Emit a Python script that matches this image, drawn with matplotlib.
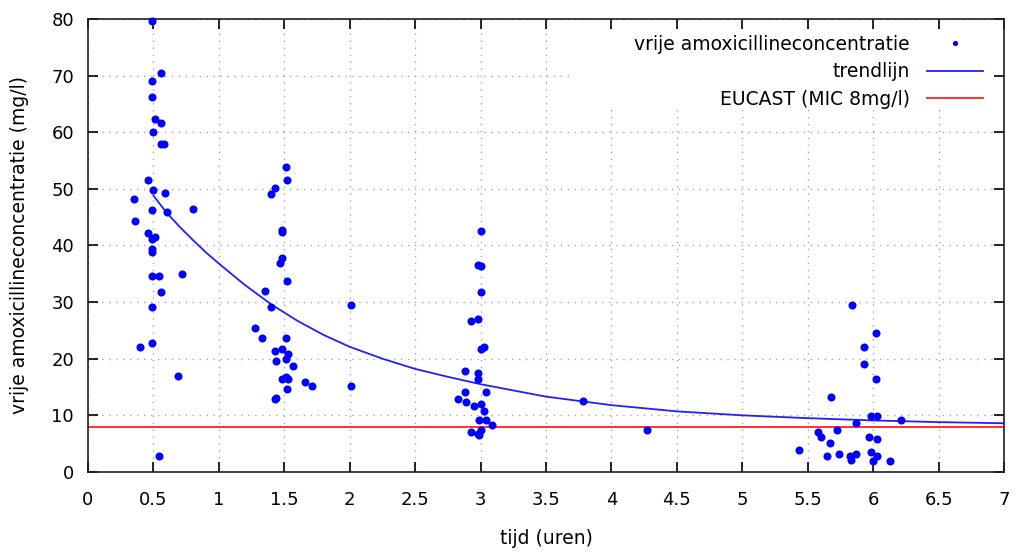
import matplotlib
matplotlib.use("Agg")
import matplotlib.pyplot as plt
from matplotlib.patches import Rectangle
from matplotlib.ticker import MultipleLocator, FuncFormatter

# measured free amoxicillin concentrations (time in hours, conc in mg/l)
tijd = [
    0.49, 0.56, 0.49, 0.49, 0.51, 0.56, 0.50, 0.56, 0.58, 0.46, 0.50, 0.59,
    0.35, 0.49, 0.60, 0.80, 0.36, 0.46, 0.49, 0.51, 0.49, 0.49, 0.49, 0.54,
    0.72, 0.56, 0.49, 0.40, 0.49, 0.69, 0.54,
    1.51, 1.52, 1.43, 1.40, 1.48, 1.48, 1.48, 1.47, 1.52, 1.35, 1.40, 1.28,
    1.33, 1.51, 1.48, 1.43, 1.53, 1.51, 1.44, 1.57, 1.48, 1.51, 1.53, 1.66,
    1.71, 1.52, 1.43, 1.44,
    2.01, 2.01,
    3.00, 2.98, 3.00, 3.00, 2.93, 2.98, 3.00, 3.03, 2.88, 2.98, 2.98, 2.88,
    3.04, 2.83, 2.89, 2.95, 3.00, 3.03, 2.99, 3.04, 3.09, 2.93, 3.00, 2.99,
    2.98,
    3.78, 4.27,
    5.84, 6.02, 5.93, 5.93, 6.02, 5.68, 5.98, 6.03, 6.21, 5.87, 5.72, 5.58,
    5.60, 5.97, 6.03, 5.67, 5.43, 5.98, 5.65, 5.74, 5.82, 5.83, 5.87, 6.03,
    6.00, 6.13,
]
conc = [
    79.7, 70.4, 69.0, 66.3, 62.4, 61.7, 60.0, 58.0, 58.0, 51.6, 49.8, 49.3,
    48.2, 46.2, 45.9, 46.5, 44.4, 42.2, 41.1, 41.5, 39.3, 38.8, 34.6, 34.6,
    34.9, 31.7, 29.1, 22.1, 22.7, 17.0, 2.8,
    53.9, 51.6, 50.2, 49.1, 42.8, 42.3, 37.8, 36.9, 33.7, 32.0, 29.1, 25.4,
    23.6, 23.6, 21.8, 21.3, 20.9, 20.0, 19.6, 18.7, 16.4, 16.7, 16.4, 15.8,
    15.2, 14.7, 12.8, 13.1,
    29.4, 15.2,
    42.6, 36.6, 36.3, 31.7, 26.7, 27.0, 21.8, 22.1, 17.8, 17.5, 16.4, 14.1,
    14.1, 12.9, 12.3, 11.7, 12.0, 10.8, 9.2, 9.2, 8.3, 7.1, 7.4, 6.5,
    6.7,
    12.6, 7.4,
    29.4, 24.5, 22.1, 19.0, 16.4, 13.3, 9.8, 9.8, 9.2, 8.6, 7.4, 7.1,
    6.2, 6.2, 5.9, 5.1, 3.9, 3.6, 2.8, 3.1, 2.8, 2.2, 3.1, 2.8,
    1.9, 1.9,
]

# trend line
trend_t = [0.5, 0.6, 0.7, 0.8, 0.9, 1.0, 1.2, 1.4, 1.6, 1.8, 2.0, 2.25,
           2.5, 2.75, 3.0, 3.5, 4.0, 4.5, 5.0, 5.5, 6.0, 6.5, 7.0]
trend_c = [48.8, 45.8, 43.3, 41.0, 38.8, 36.8, 33.0, 29.6, 26.7, 24.2, 22.1, 20.0,
           18.2, 16.8, 15.5, 13.3, 11.8, 10.7, 10.0, 9.5, 9.1, 8.8, 8.6]

mic = 8

plt.rcParams['font.family'] = ['DejaVu Sans']

fig = plt.figure(figsize=(10.16, 5.52), dpi=100)
ax = fig.add_axes([0.0866, 0.145, 0.9016, 0.8207])

ax.plot(tijd, conc, 'o', color='#0000ff', markersize=5.8, markeredgewidth=0,
        label='vrije amoxicillineconcentratie', clip_on=False, zorder=3)
ax.plot(trend_t, trend_c, '-', color='#2020ff', linewidth=1.3,
        label='trendlijn', zorder=2)
ax.axhline(mic, color='#ff2020', linewidth=1.3, label='EUCAST (MIC 8mg/l)', zorder=2)

ax.set_xlim(0, 7)
ax.set_ylim(0, 80)
ax.xaxis.set_major_locator(MultipleLocator(0.5))
ax.yaxis.set_major_locator(MultipleLocator(10))
ax.xaxis.set_major_formatter(FuncFormatter(lambda v, p: '%g' % v))

ax.set_axisbelow(True)
ax.grid(True, color='#a8a8a8', linestyle=(0, (1, 4)), linewidth=1.0)

ax.tick_params(axis='both', which='major', direction='in', length=7, width=1.2,
               top=True, right=True, labelsize=13, colors='black')
ax.tick_params(axis='x', pad=14)
ax.tick_params(axis='y', pad=10)
for s in ax.spines.values():
    s.set_color('#202020')
    s.set_linewidth(1.2)

ax.set_xlabel('tijd (uren)', fontsize=13.5, labelpad=14)
ax.set_ylabel('vrije amoxicillineconcentratie (mg/l)', fontsize=13.5, labelpad=16)

# white key area covering the grid, like gnuplot's opaque key
ax.add_patch(Rectangle((0.526, 0.80), 0.462, 0.176, transform=ax.transAxes,
                       facecolor='white', edgecolor='none', zorder=1))

leg = ax.legend(loc='upper right', bbox_to_anchor=(0.977, 0.965), frameon=False,
                markerfirst=False, fontsize=13.5, handlelength=3.0,
                handletextpad=0.9, labelspacing=0.45, borderpad=0,
                borderaxespad=0, markerscale=0.65)
leg.set_zorder(4)

fig.savefig('out.png', dpi=100)
